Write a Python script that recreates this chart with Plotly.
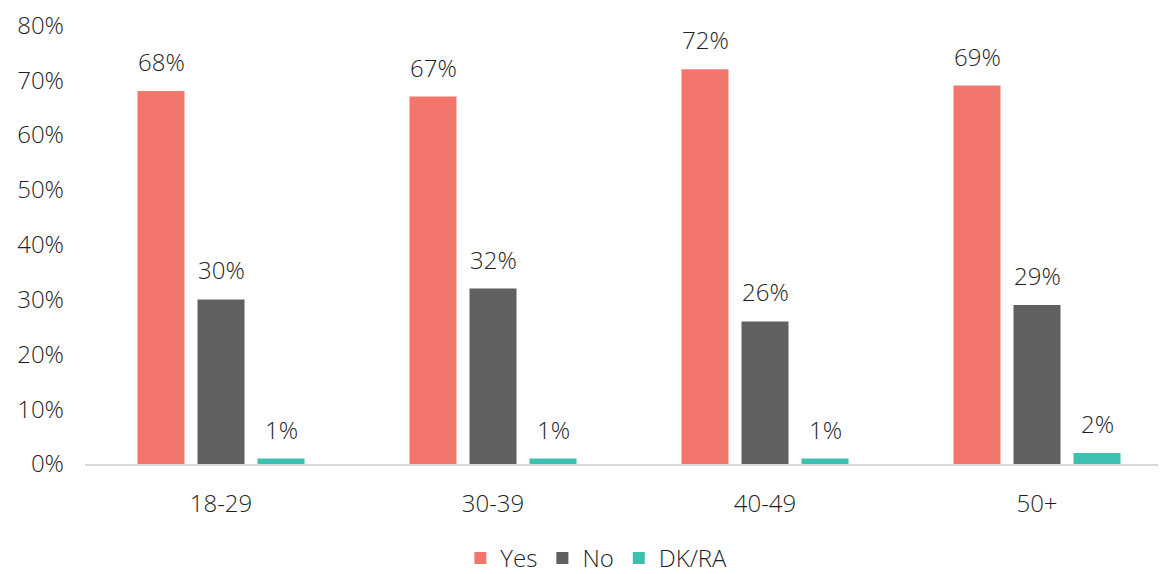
import plotly.graph_objects as go

categories = ["18-29", "30-39", "40-49", "50+"]
yes = [0.68, 0.67, 0.72, 0.69]
no = [0.30, 0.32, 0.26, 0.29]
dkra = [0.01, 0.01, 0.01, 0.02]

series = [
    ("Yes", yes, "#F2766C", -60),
    ("No", no, "#5F6061", 0),
    ("DK/RA", dkra, "#3DBFB1", 60),
]

FONT = "Open Sans, Noto Sans, sans-serif"
TXT = "#1f1f1f"
FS = 24

fig = go.Figure()
for name, vals, color, shift in series:
    fig.add_trace(go.Bar(x=categories, y=vals, name=name, marker_color=color,
                         marker_line_width=0))
    for c, v in zip(categories, vals):
        fig.add_annotation(x=c, y=v, text=f"{round(v * 100)}%", showarrow=False,
                           xshift=shift, yshift=11, yanchor="bottom",
                           font=dict(family=FONT, size=FS, color=TXT, weight=300))

fig.update_layout(
    width=1166, height=574,
    margin=dict(l=77, r=1, t=17, b=118),
    paper_bgcolor="white", plot_bgcolor="white",
    barmode="group", bargap=0.338, bargroupgap=0.217,
    font=dict(family=FONT, size=FS, color=TXT, weight=300),
    showlegend=True,
    legend=dict(orientation="h", x=0.47, xanchor="center", y=-0.215, yanchor="middle",
                font=dict(size=FS, weight=300), itemwidth=30, traceorder="normal"),
)
fig.update_yaxes(range=[0, 0.8005], tickvals=[i / 10 for i in range(9)],
                 tickformat=".0%", showgrid=False, zeroline=False, ticks="",
                 ticklabelstandoff=20, ticklabeloverflow="allow")
fig.update_xaxes(showline=True, linecolor="#D9D9D9", linewidth=2, ticks="",
                 ticklabelstandoff=17)

fig.write_html("out.html")
